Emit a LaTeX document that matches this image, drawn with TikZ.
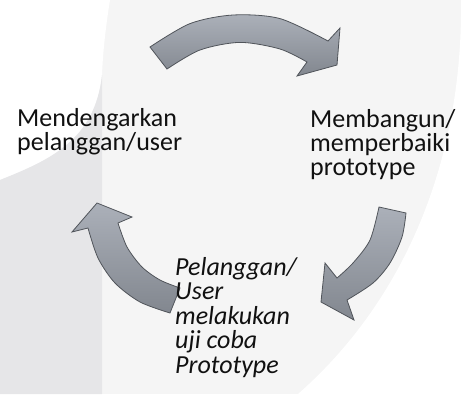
\documentclass[tikz,border=0pt]{standalone}
\usepackage{fontspec}
\setmainfont{Carlito}
\definecolor{bglight}{HTML}{F5F5F5}
\definecolor{bgdark}{HTML}{E6E6E8}
\definecolor{arrowtop}{HTML}{ABB0B9}
\definecolor{arrowbot}{HTML}{82878F}
\definecolor{arrowedge}{HTML}{50545A}
\definecolor{txt}{HTML}{111111}
\begin{document}
\begin{tikzpicture}[x=1pt,y=-1pt,
  arrowshape/.style={draw=arrowedge, line width=0.8pt, top color=arrowtop, bottom color=arrowbot, line join=miter},
  lbl/.style={font=\fontsize{26}{24}\selectfont, align=left, inner sep=0pt, text=txt, anchor=base west},
  lblit/.style={lbl, font=\fontsize{26}{24.5}\selectfont\itshape}]
\useasboundingbox (0,0) rectangle (462,394);
% background
\fill[bglight] (0,0) rectangle (462,394);
\fill[white] (461,0) .. controls (463,160) and (405,300) .. (298,394) -- (462,394) -- (462,0) -- cycle;
\fill[white] (0,0) -- (110,0) .. controls (106,25) and (103,50) .. (102,75) .. controls (95,140) and (50,160) .. (0,180) -- cycle;
\fill[bgdark] (0,180) .. controls (50,160) and (95,140) .. (102,75) -- (102,394) -- (0,394) -- cycle;
% top arrow
\path[arrowshape] plot[smooth] coordinates {(150,47) (190,23.6) (233,15) (280,18.6) (328,41)}
  -- (340,28) -- (337,65) -- (297,76)
  -- plot[smooth] coordinates {(307,62) (280,49) (240,42.4) (200,50) (167,69)} -- cycle;
% right arrow
\path[arrowshape] (379,207)
  -- plot[smooth] coordinates {(406,213) (402,237) (390,263) (373,283) (347,300)}
  -- (354,320) -- (321,302) -- (325,263)
  -- plot[smooth] coordinates {(337,278) (353,263) (370,240) (379,207)} -- cycle;
% left arrow
\path[arrowshape] (97,203) -- (72,232)
  -- plot[smooth] coordinates {(88,228) (98,258) (115,283) (140,302) (170,313)}
  -- plot[smooth] coordinates {(180,288) (160,280) (142,267) (127,247) (118,223)}
  -- (132,217) -- cycle;
% labels (base anchor = baseline of the last line)
\node[lbl] (listen) at (17,150) {Mendengarkan\\pelanggan/user};
\node[lbl] (build) at (310,175) {Membangun/\\memperbaiki\\prototype};
\node[lblit] (test) at (175,373) {Pelanggan/\\User\\melakukan\\uji coba\\Prototype};
\end{tikzpicture}
\end{document}
